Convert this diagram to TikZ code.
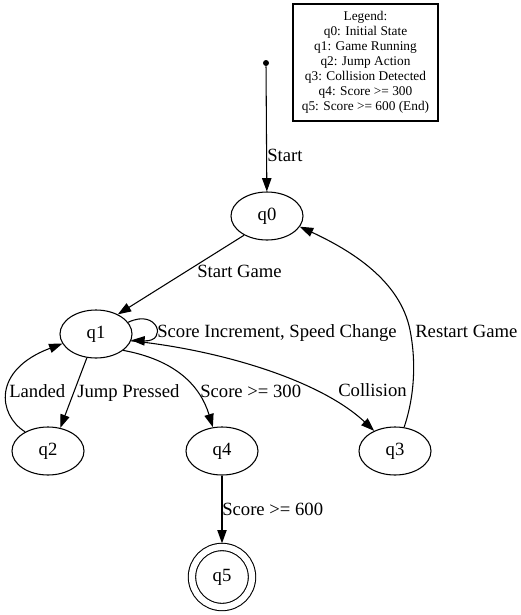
\documentclass[tikz,border=0pt]{standalone}
\usepackage{fontspec}
\setmainfont{Liberation Serif}
\usetikzlibrary{arrows.meta,shapes.geometric}
\begin{document}
\begin{tikzpicture}[x=0.75pt,y=-0.75pt,
  state/.style={ellipse,draw,line width=0.8pt,minimum width=54pt,minimum height=36pt,inner sep=0pt,font=\fontsize{14}{16}\selectfont},
  final/.style={circle,draw,line width=0.8pt,double,double distance=4.7pt,minimum size=45pt,inner sep=0pt,outer sep=2.75pt,font=\fontsize{14}{16}\selectfont},
  edge/.style={line width=0.8pt,-{Triangle[length=10pt,width=7pt]}},
  elabel/.style={anchor=west,inner sep=0pt,font=\fontsize{14}{16}\selectfont,text height=9.5pt,text depth=3pt},
  legendbox/.style={draw,line width=0.8pt,minimum width=108.75pt,minimum height=87.75pt,align=center,inner sep=0pt,font=\fontsize{10}{11.2}\selectfont}
]
\useasboundingbox[fill=white] (0,0) rectangle (521,615);

\node[legendbox] (legend) at (365.5,62.5) {Legend:\\q0: Initial State\\q1: Game Running\\q2: Jump Action\\q3: Collision Detected\\q4: Score >= 300\\q5: Score >= 600 (End)};

\node[circle,fill,inner sep=0pt,minimum size=4.5pt] (start) at (266,63) {};
\node[state] (q0) at (267,216) {q0};
\node[state] (q1) at (96,334) {q1};
\node[state] (q2) at (48,451) {q2};
\node[state] (q3) at (395,451) {q3};
\node[state] (q4) at (222,451) {q4};
\node[final] (q5) at (222,577) {q5};

\draw[edge] (start) -- (q0);
\draw[edge] (q0.220) -- (q1.42);
\draw[edge] (q1.20) .. controls (158,308) and (168,342) .. (q1.-10);
\draw[edge] (q1.249) -- (q2.62);
\draw[edge] (q2.140) .. controls (-2,415) and (-8,370) .. (q1.196);
\draw[edge] (q1.329) .. controls (175,360) and (200,385) .. (q4.111);
\draw[edge] (q1.349) .. controls (220,350) and (320,380) .. (q3.136);
\draw[edge] (q3.69) .. controls (415,395) and (416,360) .. (410,330) .. controls (400,280) and (350,250) .. (q0.-18);
\draw[edge] (q4) -- (q5);

\node[elabel] (lstart) at (267,157) {Start};
\node[elabel] (lstartgame) at (197,273) {Start Game};
\node[elabel] (lloop) at (157,333) {Score Increment, Speed Change};
\node[elabel] (llanded) at (9,393) {Landed};
\node[elabel] (ljump) at (77,393) {Jump Pressed};
\node[elabel] (l300) at (200,393) {Score >= 300};
\node[elabel] (lcoll) at (338,392) {Collision};
\node[elabel] (lrestart) at (415,333) {Restart Game};
\node[elabel] (l600) at (222,511) {Score >= 600};
\end{tikzpicture}
\end{document}
